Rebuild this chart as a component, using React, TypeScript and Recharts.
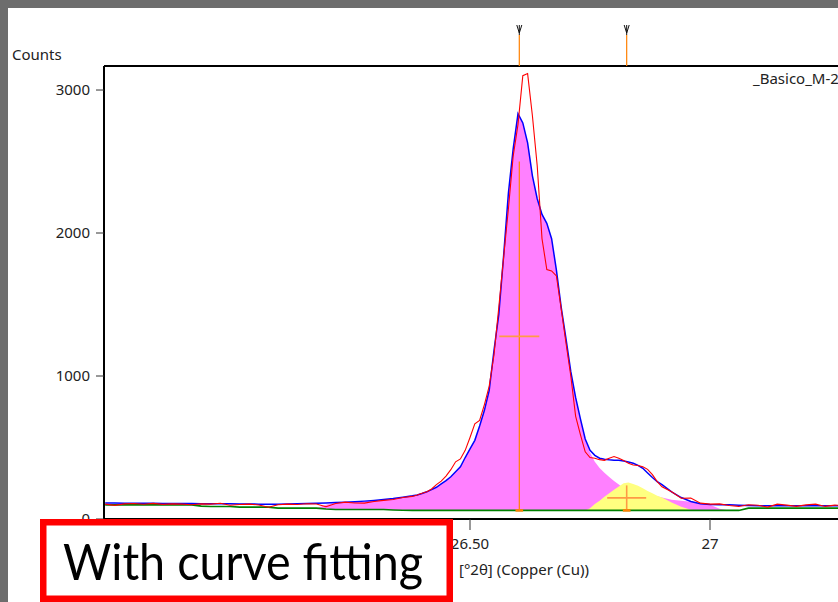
import { ComposedChart, Area, Line, XAxis, YAxis, ReferenceLine } from "recharts";

// 2θ positions of the scan points (denser around the main reflection)
const TWO_THETA = [
  25.74, 25.76, 25.78, 25.8, 25.82, 25.84, 25.86, 25.88, 25.9, 25.92,
  25.94, 25.96, 25.98, 26.0, 26.02, 26.04, 26.06, 26.08, 26.1, 26.12,
  26.14, 26.16, 26.18, 26.2, 26.22, 26.24, 26.26, 26.28, 26.3, 26.32,
  26.34, 26.36, 26.38,
  26.39, 26.4, 26.41, 26.42, 26.43, 26.44, 26.45, 26.46, 26.47, 26.48,
  26.49, 26.5, 26.51, 26.52, 26.53, 26.54, 26.55, 26.56, 26.57, 26.58,
  26.59, 26.6, 26.61, 26.62, 26.63, 26.64, 26.65, 26.66, 26.67, 26.68,
  26.69, 26.7, 26.71, 26.72, 26.73, 26.74, 26.75, 26.76, 26.77, 26.78,
  26.79, 26.8, 26.81, 26.82, 26.83, 26.84, 26.85, 26.86, 26.87, 26.88,
  26.89, 26.9,
  26.92, 26.94, 26.96, 26.98, 27.0, 27.02, 27.04, 27.06, 27.08, 27.1,
  27.12, 27.14, 27.16, 27.18, 27.2, 27.22, 27.24, 27.26, 27.28, 27.3,
  27.32, 27.34,
];

// fitted background (green)
const BACKGROUND = [
  99, 99, 99, 99, 99, 99, 99, 99, 99, 99,
  90, 87, 87, 87, 83, 83, 83, 83, 76, 76,
  76, 76, 76, 70, 66, 66, 66, 66, 66, 66,
  63, 61, 60,
  60, 60, 60, 60, 60, 60, 60, 60, 60, 60,
  60, 60, 60, 60, 60, 60, 60, 60, 60, 60,
  60, 60, 60, 60, 60, 60, 60, 60, 60, 60,
  60, 60, 60, 60, 60, 60, 60, 60, 60, 60,
  60, 60, 60, 60, 60, 60, 60, 60, 60, 60,
  60, 60,
  60, 60, 60, 60, 60, 60, 60, 60, 76, 76,
  76, 76, 76, 76, 76, 76, 76, 76, 76, 76,
  76, 76,
];

// measured counts (red)
const OBSERVED = [
  104, 95, 106, 108, 103, 109, 102, 106, 104, 100,
  106, 104, 110, 96, 101, 104, 98, 82, 100, 104,
  101, 107, 105, 86, 108, 118, 112, 111, 122, 130,
  136, 150, 158,
  168, 180, 190, 210, 240, 265, 300, 345, 400, 420,
  480, 570, 665, 690, 800, 930, 1150, 1480, 1830, 2170,
  2540, 2760, 3100, 3115, 2820, 2470, 1960, 1745, 1735, 1700,
  1470, 1230, 1000, 720, 590, 470, 430, 425, 415, 410,
  425, 437, 425, 410, 390, 378, 374, 365, 347, 310,
  262, 225,
  190, 145, 147, 111, 104, 106, 94, 88, 100, 96,
  83, 104, 97, 88, 99, 104, 88, 97, 94, 100,
  95, 98,
];

// calculated profile, sum of both peaks and background (blue)
const FIT_TOTAL = [
  112, 112, 111, 111, 110, 110, 109, 109, 108, 108,
  107, 107, 106, 106, 105, 105, 104, 104, 104, 105,
  106, 108, 110, 112, 115, 118, 121, 125, 130, 136,
  143, 152, 162,
  168, 178, 190, 205, 222, 245, 268, 295, 330, 365,
  430, 490, 550, 650, 760, 900, 1180, 1430, 1840, 2280,
  2590, 2835, 2770, 2630, 2400, 2240, 2130, 2068, 1960, 1740,
  1480, 1260, 1030, 850, 700, 560, 480, 445, 425, 418,
  414, 411, 410, 405, 399, 390, 375, 355, 322, 290,
  262, 240,
  190, 150, 122, 106, 102, 100, 99, 97, 95, 93,
  92, 92, 92, 92, 92, 92, 92, 92, 92, 92,
  92, 92,
];

// upper edge of the first fitted peak (magenta)
const PEAK1_TOP = [
  99, 99, 99, 99, 99, 99, 99, 99, 99, 99,
  90, 87, 87, 87, 83, 83, 83, 83, 76, 76,
  76, 76, 76, 100, 115, 118, 121, 125, 130, 136,
  143, 152, 162,
  168, 178, 190, 205, 222, 245, 268, 295, 330, 365,
  430, 490, 550, 650, 760, 900, 1180, 1430, 1840, 2280,
  2590, 2835, 2770, 2630, 2400, 2240, 2130, 2068, 1960, 1740,
  1480, 1260, 1030, 850, 700, 560, 465, 400, 357, 323,
  294, 266, 242, 215, 203, 205, 203, 200, 187, 170,
  159, 150,
  135, 128, 120, 106, 100, 72, 60, 60, 76, 76,
  76, 76, 76, 76, 76, 76, 76, 76, 76, 76,
  76, 76,
];

// upper edge of the second fitted peak (yellow)
const PEAK2_TOP = [
  99, 99, 99, 99, 99, 99, 99, 99, 99, 99,
  90, 87, 87, 87, 83, 83, 83, 83, 76, 76,
  76, 76, 76, 70, 66, 66, 66, 66, 66, 66,
  63, 61, 60,
  60, 60, 60, 60, 60, 60, 60, 60, 60, 60,
  60, 60, 60, 60, 60, 60, 60, 60, 60, 60,
  60, 60, 60, 60, 60, 60, 60, 60, 60, 60,
  60, 60, 60, 60, 60, 60, 75, 105, 128, 155,
  180, 205, 228, 250, 256, 245, 232, 215, 195, 180,
  163, 150,
  115, 85, 65, 60, 60, 60, 60, 60, 76, 76,
  76, 76, 76, 76, 76, 76, 76, 76, 76, 76,
  76, 76,
];

// peak positions and the crosshair markers for each fitted peak
const PEAK_POS = [26.6027, 26.8264];
const PEAK_BASE = [60, 60];
const PEAK_STEM_TOP = [2500, 235];
const PEAK_CROSS_Y = [1277, 148];
const PEAK_CROSS_HALF = [0.0417, 0.0406];

const X_TICKS = [26.5, 27];
const X_TICK_LABELS = ["26.50", "27"];
const Y_TICKS = [0, 1000, 2000, 3000];
const X_DOMAIN: [number, number] = [25.7375, 27.3333];
const Y_MAX = 3168;

const FONT = "'Noto Sans', 'Open Sans', sans-serif";
const ORANGE = "#ff8000";
const CROSS = "#ff9a45";

const rows = TWO_THETA.map((x, i) => ({
  x,
  bg: BACKGROUND[i],
  obs: OBSERVED[i],
  fit: FIT_TOTAL[i],
  p1: [BACKGROUND[i], PEAK1_TOP[i]],
  p2: [BACKGROUND[i], PEAK2_TOP[i]],
}));

// reference-pattern stick above the frame: orange stem plus a small black arrow
function PeakMarker(props: any) {
  const x = props.x1;
  const top = Math.min(props.y1, props.y2);
  return (
    <g>
      <line x1={x} x2={x} y1={top - 31} y2={top} stroke={ORANGE} strokeWidth={1.2} />
      <path
        d={`M${x - 2.5},${top - 41} L${x},${top - 33} L${x + 2.5},${top - 41} M${x},${top - 41} L${x},${top - 31}`}
        stroke="#111"
        strokeWidth={1}
        fill="none"
      />
    </g>
  );
}

export default function App() {
  return (
    <div
      style={{
        position: "absolute",
        left: 0,
        top: 0,
        width: 838,
        height: 602,
        overflow: "hidden",
        background: "#fff",
      }}
    >
      <ComposedChart
        width={870}
        height={602}
        data={rows}
        margin={{ top: 66, right: 0, bottom: 43, left: 44 }}
      >
        <XAxis
          dataKey="x"
          type="number"
          domain={X_DOMAIN}
          allowDataOverflow
          ticks={X_TICKS}
          tickFormatter={(v: number) => X_TICK_LABELS[X_TICKS.indexOf(v)]}
          height={40}
          axisLine={{ stroke: "#000", strokeWidth: 2 }}
          tickLine={{ stroke: "#333" }}
          tickSize={11}
          tickMargin={8}
          tick={{ fontFamily: FONT, fontSize: 15, fill: "#222" }}
        />
        <YAxis
          type="number"
          domain={[0, Y_MAX]}
          allowDataOverflow
          ticks={Y_TICKS}
          width={60}
          axisLine={{ stroke: "#000", strokeWidth: 2 }}
          tickLine={{ stroke: "#333" }}
          tickSize={8}
          tickMargin={6}
          tick={{ fontFamily: FONT, fontSize: 15, fill: "#222" }}
        />
        <ReferenceLine y={Y_MAX} stroke="#000" strokeWidth={2} ifOverflow="visible" />

        <Area
          dataKey="p1"
          type="linear"
          stroke="none"
          fill="#ff80ff"
          fillOpacity={1}
          isAnimationActive={false}
          activeDot={false}
        />
        <Area
          dataKey="p2"
          type="linear"
          stroke="none"
          fill="#ffff80"
          fillOpacity={1}
          isAnimationActive={false}
          activeDot={false}
        />
        <Line
          dataKey="bg"
          type="linear"
          stroke="#008000"
          strokeWidth={1.6}
          dot={false}
          activeDot={false}
          isAnimationActive={false}
        />

        {PEAK_POS.map((p, i) => (
          <ReferenceLine
            key={`stem-${i}`}
            segment={[
              { x: p, y: PEAK_BASE[i] },
              { x: p, y: PEAK_STEM_TOP[i] },
            ]}
            stroke={i === 0 ? ORANGE : CROSS}
            strokeWidth={i === 0 ? 1.2 : 1.6}
            ifOverflow="visible"
          />
        ))}
        {PEAK_POS.map((p, i) => (
          <ReferenceLine
            key={`cross-${i}`}
            segment={[
              { x: p - PEAK_CROSS_HALF[i], y: PEAK_CROSS_Y[i] },
              { x: p + PEAK_CROSS_HALF[i], y: PEAK_CROSS_Y[i] },
            ]}
            stroke={CROSS}
            strokeWidth={1.6}
            ifOverflow="visible"
          />
        ))}
        {PEAK_POS.map((p, i) => (
          <ReferenceLine
            key={`foot-${i}`}
            segment={[
              { x: p - 0.008, y: PEAK_BASE[i] },
              { x: p + 0.008, y: PEAK_BASE[i] },
            ]}
            stroke={ORANGE}
            strokeWidth={2.5}
            ifOverflow="visible"
          />
        ))}

        <Line
          dataKey="fit"
          type="linear"
          stroke="#0000ff"
          strokeWidth={1.5}
          dot={false}
          activeDot={false}
          isAnimationActive={false}
        />
        <Line
          dataKey="obs"
          type="linear"
          stroke="#ff0000"
          strokeWidth={1.1}
          dot={false}
          activeDot={false}
          isAnimationActive={false}
        />

        {PEAK_POS.map((p, i) => (
          <ReferenceLine key={`stick-${i}`} x={p} ifOverflow="visible" shape={PeakMarker} />
        ))}
      </ComposedChart>

      <svg
        width={838}
        height={602}
        style={{ position: "absolute", left: 0, top: 0, pointerEvents: "none" }}
      >
        <rect x={0} y={0} width={8} height={602} fill="#6d6d6d" />
        <rect x={0} y={0} width={838} height={8} fill="#6d6d6d" />
        <text x={12} y={59.5} fontFamily={FONT} fontSize={15} fill="#222">
          Counts
        </text>
        <text x={753} y={84} fontFamily={FONT} fontSize={15} fill="#222">
          _Basico_M-2
        </text>
        <text x={459} y={575} fontFamily={FONT} fontSize={15} fill="#222">
          [°2θ] (Copper (Cu))
        </text>
        <rect
          x={43.25}
          y={522.25}
          width={406.5}
          height={76.5}
          fill="#fff"
          stroke="#ff0000"
          strokeWidth={6.5}
        />
        <text
          x={63}
          y={580}
          fontFamily="Lato, 'Noto Sans', sans-serif"
          fontSize={51}
          fill="#000"
          textLength={360}
          lengthAdjust="spacingAndGlyphs"
        >
          With curve fitting
        </text>
      </svg>
    </div>
  );
}
